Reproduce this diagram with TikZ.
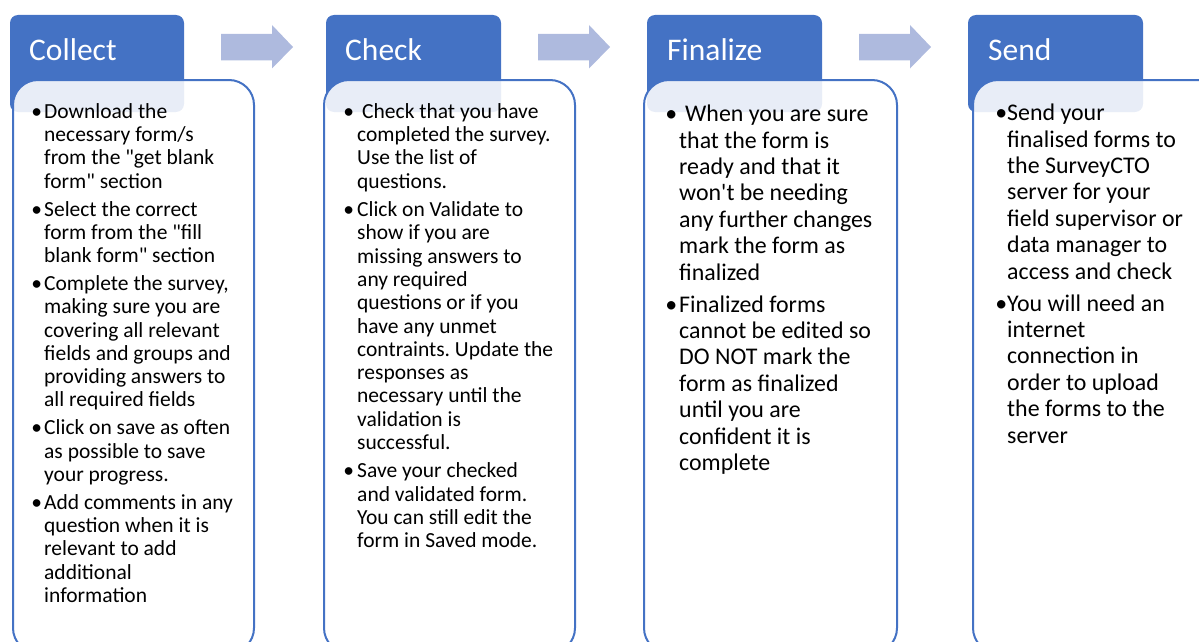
\documentclass[tikz,border=0pt]{standalone}
\usepackage{fontspec}
\setmainfont{Carlito}[Ligatures=TeXOff]
\definecolor{hdr}{RGB}{68,114,196}
\definecolor{arr}{RGB}{174,186,222}
\tikzset{
  hdrbox/.style={fill=hdr, rounded corners=8pt},
  bodybox/.style={draw=hdr, line width=2pt, fill=white, fill opacity=0.88, rounded corners=25pt},
  hdrtext/.style={anchor=base west, inner sep=0pt, text=white, font=\fontsize{31.5}{36}\selectfont},
  bodytext/.style={anchor=base west, inner sep=0pt, text=black},
  flowarrow/.style={fill=arr},
}
\newcommand\bl[1]{\leavevmode\llap{•\hspace{#1}}}
\newcommand\smalltext{\frenchspacing\fontsize{21.5}{23.3}\selectfont}
\newcommand\bigtext{\frenchspacing\fontsize{23.9}{26.4}\selectfont}
\begin{document}
\begin{tikzpicture}[x=1pt,y=-1pt]
\useasboundingbox (0,0) rectangle (1199,642);
\clip (0,0) rectangle (1199,642);
% arrows
\foreach \L/\n in {221/a1,538/a2,859/a3}{
  \fill[flowarrow] (\L,34) -- (\L+51,34) -- (\L+51,25) -- (\L+72,47) -- (\L+51,68.5) -- (\L+51,60.5) -- (\L,60.5) -- cycle;
}
% headers
\fill[hdrbox] (10,15) rectangle (184,112);
\fill[hdrbox] (326,15) rectangle (501,112);
\fill[hdrbox] (647,15) rectangle (822,112);
\fill[hdrbox] (968,15) rectangle (1143,112);
% bodies
\draw[bodybox] (13,80) rectangle (254,653);
\draw[bodybox] (324,80) rectangle (575,653);
\draw[bodybox] (644,80) rectangle (897,653);
\draw[bodybox] (973,80) rectangle (1226,653);
% header titles
\node[hdrtext] (h1) at (29,60) {Collect};
\node[hdrtext] (h2) at (345,60) {Check};
\node[hdrtext] (h3) at (667,60) {Finalize};
\node[hdrtext] (h4) at (988,60) {Send};
% body texts
\node[bodytext] (b1) at (44,118.3) {\parbox[t]{300pt}{\smalltext
\bl{2pt}Download the\\
necessary form/s\\
from the "get blank\\
form" section\\[4.5pt]
\bl{2pt}Select the correct\\
form from the "fill\\
blank form" section\\[4.5pt]
\bl{2pt}Complete the survey,\\
making sure you are\\
covering all relevant\\
fields and groups and\\
providing answers to\\
all required fields\\[4.5pt]
\bl{2pt}Click on save as often\\
as possible to save\\
your progress.\\[4.5pt]
\bl{2pt}Add comments in any\\
question when it is\\
relevant to add\\
additional\\
information}};
\node[bodytext] (b2) at (357,118.3) {\parbox[t]{300pt}{\smalltext
\bl{3pt}\hspace*{5pt}Check that you have\\
completed the survey.\\
Use the list of\\
questions.\\[5pt]
\bl{3pt}Click on Validate to\\
show if you are\\
missing answers to\\
any required\\
questions or if you\\
have any unmet\\
contraints. Update the\\
responses as\\
necessary until the\\
validation is\\
successful.\\[5pt]
\bl{3pt}Save your checked\\
and validated form.\\
You can still edit the\\
form in Saved mode.}};
\node[bodytext] (b3) at (679,121.7) {\parbox[t]{300pt}{\bigtext
\bl{2pt}\hspace*{6pt}When you are sure\\
that the form is\\
ready and that it\\
won't be needing\\
any further changes\\
mark the form as\\
finalized\\[5.6pt]
\bl{2pt}Finalized forms\\
cannot be edited so\\
DO NOT mark the\\
form as finalized\\
until you are\\
confident it is\\
complete}};
\node[bodytext] (b4) at (1007,120.7) {\parbox[t]{300pt}{\bigtext
\bl{0pt}Send your\\
finalised forms to\\
the SurveyCTO\\
server for your\\
field supervisor or\\
data manager to\\
access and check\\[5.6pt]
\bl{0pt}You will need an\\
internet\\
connection in\\
order to upload\\
the forms to the\\
server}};
\end{tikzpicture}
\end{document}
